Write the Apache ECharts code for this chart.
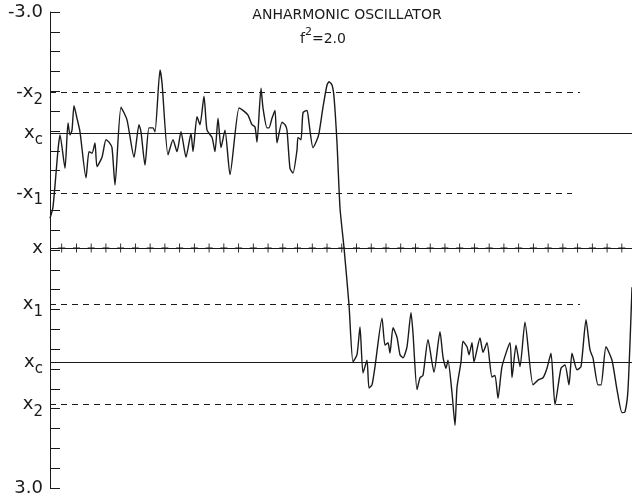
<!DOCTYPE html>
<html>
<head>
<meta charset="utf-8">
<script src="https://cdn.jsdelivr.net/npm/echarts@6/dist/echarts.min.js"></script>
<style>html,body{margin:0;padding:0;background:#fff}#c{width:632px;height:499px}</style>
</head>
<body>
<div id="c"></div>
<script>
// lattice time (arbitrary units) and path coordinate x(t)
const times = [0,3,8,10,15,18,20,22,24,27,30,36,39,42,45,47,52,56,59,62,65,71,77,84,89,91,95,99,103,105,110,112,118,123,127,131,136,141,143,147,150,154,157,162,165,168,171,175,180,189,193,198,202,205,207,211,213,217,219,222,225,227,232,235,237,240,243,247,248,251,253,257,259,263,267,269,273,277,279,282,284,287,290,294,299,303,307,310,313,317,319,322,325,332,335,338,340,343,347,350,353,357,361,363,367,370,373,378,384,390,393,396,398,402,405,407,411,413,417,419,422,424,430,433,437,442,445,448,452,460,462,466,470,475,483,488,493,497,501,505,511,515,519,522,527,531,536,540,543,548,551,556,562,567,572,575,578,582];
const pathX = [-0.40,-0.54,-1.26,-1.45,-1.03,-1.60,-1.45,-1.51,-1.82,-1.66,-1.49,-0.91,-1.24,-1.22,-1.35,-1.05,-1.17,-1.39,-1.36,-1.29,-0.82,-1.80,-1.64,-1.17,-1.58,-1.49,-1.07,-1.54,-1.54,-1.49,-2.27,-2.11,-1.20,-1.39,-1.24,-1.49,-1.17,-1.47,-1.24,-1.68,-1.58,-1.94,-1.51,-1.42,-1.24,-1.66,-1.29,-1.51,-0.95,-1.79,-1.76,-1.70,-1.58,-1.55,-1.36,-2.04,-1.79,-1.54,-1.54,-1.66,-1.76,-1.35,-1.61,-1.58,-1.51,-1.03,-0.97,-1.26,-1.42,-1.39,-1.73,-1.76,-1.60,-1.29,-1.39,-1.47,-1.80,-2.08,-2.12,-2.08,-1.93,-1.35,-0.53,-0.03,0.69,1.41,1.32,0.97,1.55,1.39,1.74,1.70,1.47,0.86,1.20,1.17,1.30,0.98,1.10,1.32,1.36,1.22,0.79,1.05,1.76,1.61,1.58,1.13,1.54,1.03,1.35,1.49,1.39,1.80,2.21,1.73,1.41,1.15,1.22,1.32,1.17,1.41,1.11,1.29,1.17,1.60,1.58,1.87,1.47,1.17,1.61,1.20,1.47,0.91,1.70,1.64,1.61,1.49,1.30,1.95,1.49,1.45,1.70,1.30,1.51,1.47,0.88,1.26,1.36,1.70,1.70,1.22,1.39,1.76,2.05,2.04,1.76,0.47];

// reference levels
const levelValues = [-1.99, -1.475, -0.72, -0.025, 0.69, 1.41, 1.95];
const levelDashed = [true, false, true, false, true, false, true];
const levelEnds   = [530, 582, 522, 582, 530, 582, 525];

// left axis labels
const labelValues = [-3, -1.99, -1.475, -0.72, -0.025, 0.69, 1.41, 1.95, 3];
const labelTexts  = ['{n|-3.0}', '{x|-x}{s|2}', '{x|x}{c|c}', '{x|-x}{s|1}', '{x|x}', '{x|x}{s|1}', '{x|x}{c|c}', '{x|x}{s|2}', '{n|3.0}'];

// time marks along the x line
const markStart = 11.7, markStep = 14.74, markCount = 39;
const markTimes = [];
for (let k = 0; k < markCount; k++) markTimes.push(+(markStart + k * markStep).toFixed(2));
const markLevel = -0.025;

const X_MIN = 0, X_MAX = 582;
const INK = '#1a1a1a';
const FONT = 'DejaVu Sans';

const chart = echarts.init(document.getElementById('c'), null, {renderer: 'canvas'});

const levelLines = levelValues.map((v, i) => [
  {coord: [X_MIN, v], lineStyle: {type: levelDashed[i] ? [6, 5] : 'solid', width: 1, color: INK}},
  {coord: [levelEnds[i], v]}
]);

chart.setOption({
  animation: false,
  backgroundColor: '#fff',
  title: [
    {text: 'ANHARMONIC OSCILLATOR', left: 342, top: 3, textAlign: 'center',
     textStyle: {fontFamily: FONT, fontSize: 14, fontWeight: 'normal', color: INK}},
    {text: '{f|f}{p|2}{f|=2.0}', left: 318, top: 22, textAlign: 'center',
     textStyle: {fontWeight: 'normal', rich: {
       f: {fontFamily: FONT, fontSize: 14, fontWeight: 'normal', color: INK, verticalAlign: 'bottom', lineHeight: 19},
       p: {fontFamily: FONT, fontSize: 11, fontWeight: 'normal', color: INK, verticalAlign: 'top', lineHeight: 19}
     }}}
  ],
  grid: {left: 50, right: 0, top: 12, bottom: 11, containLabel: false},
  xAxis: {
    type: 'value', min: X_MIN, max: X_MAX, show: false
  },
  yAxis: [
    {type: 'value', min: -3, max: 3, interval: 0.25, inverse: true,
     axisLine: {show: true, lineStyle: {color: INK, width: 1}},
     axisTick: {show: true, inside: true, length: 10, lineStyle: {color: INK}},
     axisLabel: {show: false}, splitLine: {show: false}},
    {type: 'value', min: -3, max: 3, inverse: true, position: 'left',
     axisLine: {show: false}, axisTick: {show: false}, splitLine: {show: false},
     axisLabel: {
       show: true, customValues: labelValues, margin: 7,
       formatter: function (v) {
         let best = 0;
         for (let i = 1; i < labelValues.length; i++) if (Math.abs(labelValues[i] - v) < Math.abs(labelValues[best] - v)) best = i;
         return labelTexts[best];
       },
       rich: {
         n: {fontFamily: FONT, fontSize: 18, color: INK},
         x: {fontFamily: FONT, fontSize: 18, color: INK, verticalAlign: 'middle', lineHeight: 30},
         s: {fontFamily: FONT, fontSize: 15, color: INK, verticalAlign: 'bottom', lineHeight: 30},
         c: {fontFamily: FONT, fontSize: 15, color: INK, verticalAlign: 'bottom', lineHeight: 30}
       }
     }}
  ],
  series: [
    {
      type: 'line',
      data: times.map((t, i) => [t, pathX[i]]),
      showSymbol: false,
      smooth: 0.2,
      lineStyle: {color: INK, width: 1.4},
      z: 3,
      markLine: {silent: true, symbol: 'none', label: {show: false}, data: levelLines}
    },
    {
      type: 'scatter',
      data: markTimes.map(t => [t, markLevel]),
      symbol: 'path://M5,0L5,10M0,5L10,5',
      symbolSize: [7, 9],
      itemStyle: {color: 'none', borderColor: INK, borderWidth: 1, opacity: 1},
      silent: true,
      z: 2
    }
  ]
});
</script>
</body>
</html>
